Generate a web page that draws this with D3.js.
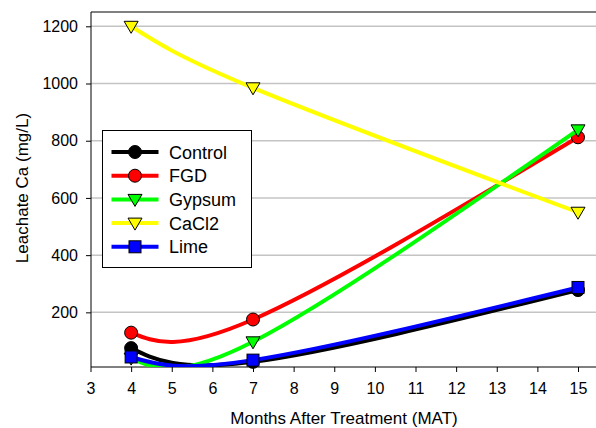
<!DOCTYPE html>
<html><head><meta charset="utf-8">
<script src="https://cdn.jsdelivr.net/npm/d3@7"></script>
<style>body{margin:0;background:#fff}svg{display:block;font-family:"Liberation Sans",Arial,sans-serif}</style>
</head><body>
<svg id="c" width="596" height="428"></svg>
<script>
const months = [4, 7, 15];
const seriesNames = ["Control", "FGD", "Gypsum", "CaCl2", "Lime"];
const control = [75, 27, 278];
const fgd = [129, 175, 812];
const gypsum = [40, 97, 838];
const cacl2 = [1200, 985, 550];
const lime = [44, 33, 287];
const xTicks = [3,4,5,6,7,8,9,10,11,12,13,14,15];
const yTicks = [200,400,600,800,1000,1200];

const styles = {
  Control:{color:"#000000", shape:"circle"},
  FGD:{color:"#ff0000", shape:"circle"},
  Gypsum:{color:"#00ff00", shape:"tri"},
  CaCl2:{color:"#ffff00", shape:"tri"},
  Lime:{color:"#0000ff", shape:"square"}
};
const dataMap = {Control:control, FGD:fgd, Gypsum:gypsum, CaCl2:cacl2, Lime:lime};

const svg = d3.select("#c");
const L = 91, T = 12, R = 640, B = 367;
const x = d3.scaleLinear().domain([3, 15]).range([90.5, 578]);
const y = d3.scaleLinear().domain([10, 1250]).range([366.7, 12]);

svg.append("defs").append("clipPath").attr("id","clip")
  .append("rect").attr("x",L).attr("y",T).attr("width",R-L).attr("height",B-T);

// gridlines
svg.append("g").selectAll("line").data(yTicks).join("line")
  .attr("x1",L).attr("x2",R).attr("y1",d=>y(d)).attr("y2",d=>y(d))
  .attr("stroke","#c4c4c4").attr("stroke-width",1.5);

// top border
svg.append("line").attr("x1",L).attr("x2",R).attr("y1",T).attr("y2",T).attr("stroke","#000").attr("stroke-width",1);

// axes
const yAxis = d3.axisLeft(y).tickValues(yTicks).tickFormat(d3.format("d")).tickSize(5).tickPadding(8).tickSizeOuter(0);
const gy = svg.append("g").attr("transform",`translate(${L},0)`).call(yAxis);
gy.select(".domain").remove();
svg.append("line").attr("x1",L).attr("x2",L).attr("y1",T).attr("y2",B).attr("stroke","#000").attr("stroke-width",1);
gy.selectAll("text").attr("font-size",16).attr("fill","#000");

const xAxis = d3.axisBottom(x).tickValues(xTicks).tickFormat(d3.format("d")).tickSize(5).tickPadding(11).tickSizeOuter(0);
const gx = svg.append("g").attr("transform",`translate(0,${B})`).call(xAxis);
gx.select(".domain").remove();
svg.append("line").attr("x1",L).attr("x2",R).attr("y1",B).attr("y2",B).attr("stroke","#000").attr("stroke-width",1);
gx.selectAll("text").attr("font-size",16).attr("fill","#000");

svg.append("text").attr("x",344).attr("y",423.5).attr("text-anchor","middle").attr("font-size",17).text("Months After Treatment (MAT)");
svg.append("text").attr("transform","translate(28,188) rotate(-90)").attr("text-anchor","middle").attr("font-size",17).text("Leachate Ca (mg/L)");

const line = d3.line().x(d=>x(d[0])).y(d=>y(d[1])).curve(d3.curveNatural);

function marker(g, shape, color, cx, cy) {
  if (shape==="circle") g.append("circle").attr("cx",cx).attr("cy",cy).attr("r",6.5).attr("fill",color).attr("stroke","#000").attr("stroke-width",1);
  else if (shape==="square") g.append("rect").attr("x",cx-6).attr("y",cy-6).attr("width",12).attr("height",12).attr("fill",color).attr("stroke","#000").attr("stroke-width",1);
  else g.append("path").attr("d",`M${cx-7},${cy-5}L${cx+7},${cy-5}L${cx},${cy+7}Z`).attr("fill",color).attr("stroke","#000").attr("stroke-width",1);
}

seriesNames.forEach(name=>{
  const st = styles[name];
  const pts = months.map((m,i)=>[m, dataMap[name][i]]);
  const g = svg.append("g");
  g.append("path").attr("d",line(pts)).attr("fill","none").attr("stroke",st.color).attr("stroke-width",4).attr("clip-path","url(#clip)");
  pts.forEach(p=>marker(g, st.shape, st.color, x(p[0]), y(p[1])));
});

// legend
const lg = svg.append("g");
lg.append("rect").attr("x",102.5).attr("y",130.5).attr("width",149).attr("height",137).attr("fill","#fff").attr("stroke","#000").attr("stroke-width",1);
seriesNames.forEach((name,i)=>{
  const st = styles[name];
  const cy = 152 + i*23.7;
  lg.append("line").attr("x1",111.5).attr("x2",158.5).attr("y1",cy).attr("y2",cy).attr("stroke",st.color).attr("stroke-width",4);
  marker(lg, st.shape, st.color, 135, cy);
  lg.append("text").attr("x",169).attr("y",cy+6.5).attr("font-size",18).text(name);
});
</script>
</body></html>
